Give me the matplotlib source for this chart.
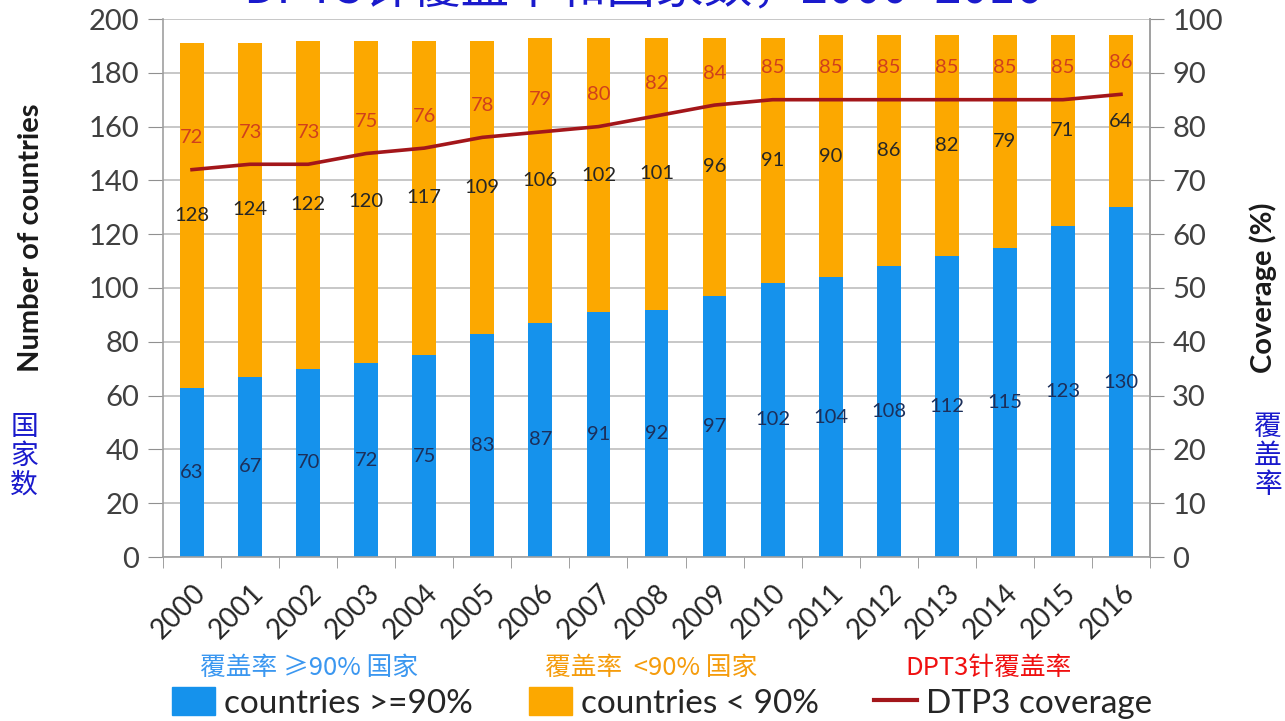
import matplotlib.pyplot as plt
from matplotlib.patches import Patch
from matplotlib.lines import Line2D
import numpy as np

years = ['2000', '2001', '2002', '2003', '2004', '2005', '2006', '2007', '2008',
         '2009', '2010', '2011', '2012', '2013', '2014', '2015', '2016']
high = [63, 67, 70, 72, 75, 83, 87, 91, 92, 97, 102, 104, 108, 112, 115, 123, 130]
low = [128, 124, 122, 120, 117, 109, 106, 102, 101, 96, 91, 90, 86, 82, 79, 71, 64]
coverage = [72, 73, 73, 75, 76, 78, 79, 80, 82, 84, 85, 85, 85, 85, 85, 85, 86]

blue = '#1592ec'
orange = '#fca800'
red_line = '#a3161a'
grid_c = '#bdbdbd'
tick_c = '#404040'

plt.rcParams['font.family'] = ['Lato', 'Noto Sans CJK SC', 'DejaVu Sans']
cjk = ['Noto Sans CJK SC', 'DejaVu Sans']

fig = plt.figure(figsize=(12.85, 7.21), dpi=100)
ax = fig.add_axes([163 / 1285, 1 - 557 / 721, (1150 - 163) / 1285, (557 - 19) / 721])

x = np.arange(len(years))
ax.bar(x, high, width=0.41, color=blue, zorder=2)
ax.bar(x, low, width=0.41, bottom=high, color=orange, zorder=2)

for i in range(len(x)):
    ax.text(x[i], high[i] / 2, str(high[i]), ha='center', va='center',
            fontsize=14.5, color='#1c2f5a', zorder=4)
    ax.text(x[i], high[i] + low[i] / 2, str(low[i]), ha='center', va='center',
            fontsize=14.5, color='#262626', zorder=4)

ax.set_xlim(-0.5, len(x) - 0.5)
ax.set_ylim(0, 200)
ax.set_yticks(range(0, 201, 20))
ax.yaxis.grid(True, color=grid_c, linewidth=1.2, zorder=0)
ax.set_axisbelow(True)

ax.set_xticks(x)
ax.set_xticklabels(years, rotation=45, ha='right', rotation_mode='anchor',
                   fontsize=20, color='#262626')
ax.set_xticks(np.arange(-0.5, len(x), 1), minor=True)
ax.tick_params(axis='x', which='major', length=0, pad=16)
ax.tick_params(axis='x', which='minor', length=8, color='#909090', direction='out')
ax.tick_params(axis='y', length=11, color='#909090', labelsize=21, labelcolor=tick_c, pad=6)

ax.spines['top'].set_visible(False)
for s in ['left', 'right', 'bottom']:
    ax.spines[s].set_color('#a0a0a0')
    ax.spines[s].set_linewidth(1.2)

ax.set_ylabel('Number of countries', fontsize=21, fontweight='bold', color='#1a1a1a')
ax.yaxis.set_label_coords(-0.121, 0.593)

ax2 = ax.twinx()
ax2.set_ylim(0, 100)
ax2.set_yticks(range(0, 101, 10))
ax2.plot(x, coverage, color=red_line, linewidth=2.6, zorder=5)
for i in range(len(x)):
    ax2.annotate(str(coverage[i]), (x[i], coverage[i]), xytext=(0, 32),
                 textcoords='offset pixels', ha='center', va='center',
                 fontsize=14.5, color='#d0401c')
ax2.tick_params(axis='y', length=10, color='#909090', labelsize=21, labelcolor=tick_c, pad=6)
ax2.spines['top'].set_visible(False)
ax2.spines['right'].set_color('#a0a0a0')
ax2.spines['right'].set_linewidth(1.2)
ax2.spines['left'].set_visible(False)
ax2.spines['bottom'].set_visible(False)
ax2.set_ylabel('Coverage (%)', fontsize=21, fontweight='bold', color='#1a1a1a')
ax2.yaxis.set_label_coords(1.101, 0.5)

# title sits partly above the top edge of the slide
fig.text(0.5, 1.014, 'DPT3针覆盖率和国家数，2000–2016', ha='center', va='center',
         fontsize=35, color='#1a1acc', family=cjk)

fig.text(24 / 1285, 1 - 456 / 721, '国\n家\n数', ha='center', va='center',
         fontsize=20, color='#1a1acc', family=cjk, linespacing=0.95)
fig.text(1268 / 1285, 1 - 456 / 721, '覆\n盖\n率', ha='center', va='center',
         fontsize=20, color='#1a1acc', family=cjk, linespacing=0.95)

fig.text(200 / 1285, 1 - 668 / 721, '覆盖率 ≥90% 国家', ha='left', va='center',
         fontsize=18.5, color='#3b97f0', family=cjk)
fig.text(545 / 1285, 1 - 668 / 721, '覆盖率  <90% 国家', ha='left', va='center',
         fontsize=18.5, color='#f59c0c', family=cjk)
fig.text(905 / 1285, 1 - 668 / 721, 'DPT3针覆盖率', ha='left', va='center',
         fontsize=18.5, color='#f01010', family=cjk)

# one legend entry per call so each can sit at its own spot along the bottom
entries = [
    (Patch(color=blue), 'countries >=90%', 172),
    (Patch(color=orange), 'countries < 90%', 529),
    (Line2D([0], [0], color=red_line, linewidth=3), 'DTP3 coverage', 874),
]
for handle, label, left in entries:
    fig.legend([handle], [label], loc='center left',
               bbox_to_anchor=(left / 1285, 1 - 703 / 721),
               frameon=False, fontsize=24, handlelength=1.3, handleheight=0.9,
               handletextpad=0.25, borderpad=0, borderaxespad=0,
               labelcolor='#262626')

fig.savefig('out.png', dpi=100)
